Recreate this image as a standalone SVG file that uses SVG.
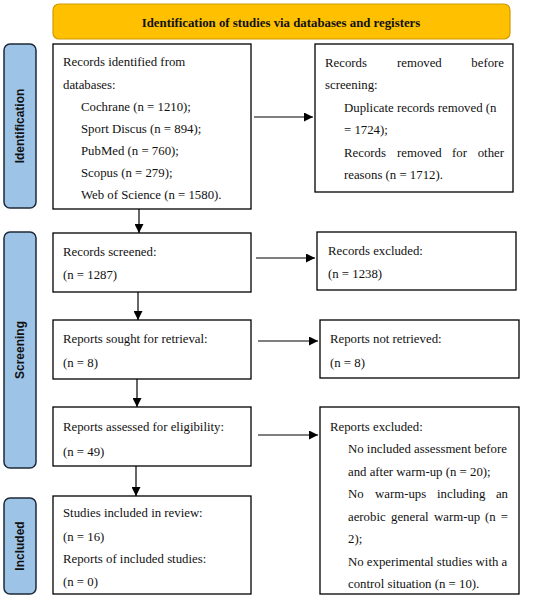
<svg xmlns="http://www.w3.org/2000/svg" width="550" height="598" viewBox="0 0 550 598">
<defs>
<marker id="ah" viewBox="0 0 10 10" refX="10" refY="5" markerWidth="9" markerHeight="9" markerUnits="userSpaceOnUse" orient="auto">
<path d="M0,0 L10,5 L0,10 z" fill="#000"/>
</marker>
<style>
.box{fill:#fff;stroke:#000;stroke-width:1.3}
.side{fill:#9DC3E6;stroke:#1E2A38;stroke-width:1.5}
.t{font-family:"Liberation Serif","Times New Roman",serif;font-size:12.8px;fill:#111}
.h{font-family:"Liberation Serif","Times New Roman",serif;font-size:12.8px;font-weight:bold;fill:#111}
.s{font-family:"Liberation Sans",Arial,sans-serif;font-size:12px;font-weight:bold;fill:#111}
.c{stroke:#000;stroke-width:1.2;fill:none}
</style>
</defs>
<rect width="550" height="598" fill="#fff"/>
<g id="header">
<rect x="53" y="4" width="457" height="35" rx="6" fill="#FFC000" stroke="#D29A00" stroke-width="1.2"/>
<text class="h" x="281" y="27" text-anchor="middle">Identification of studies via databases and registers</text>
</g>
<g id="side-identification">
<rect class="side" x="4" y="44" width="32" height="164" rx="6"/>
<text class="s" transform="translate(24,126) rotate(-90)" text-anchor="middle">Identification</text>
</g>
<g id="side-screening">
<rect class="side" x="4" y="232" width="32" height="236" rx="6"/>
<text class="s" transform="translate(24,350) rotate(-90)" text-anchor="middle">Screening</text>
</g>
<g id="side-included">
<rect class="side" x="4" y="498" width="32" height="96" rx="6"/>
<text class="s" transform="translate(24,546) rotate(-90)" text-anchor="middle">Included</text>
</g>
<g id="records-identified">
<rect class="box" x="53" y="44" width="198" height="165"/>
<text class="t" x="63" y="66">Records identified from</text>
<text class="t" x="63" y="89">databases:</text>
<text class="t" x="81" y="111">Cochrane (n = 1210);</text>
<text class="t" x="81" y="133">Sport Discus (n = 894);</text>
<text class="t" x="81" y="155">PubMed (n = 760);</text>
<text class="t" x="81" y="177">Scopus (n = 279);</text>
<text class="t" x="81" y="199">Web of Science (n = 1580).</text>
</g>
<g id="records-removed">
<rect class="box" x="315" y="44" width="198" height="148"/>
<text class="t" x="325" y="67">Records</text>
<text class="t" x="397" y="67">removed</text>
<text class="t" x="504" y="67" text-anchor="end">before</text>
<text class="t" x="325" y="89">screening:</text>
<text class="t" x="344" y="112">Duplicate records removed (n</text>
<text class="t" x="344" y="134">= 1724);</text>
<text class="t" x="344" y="157">Records</text>
<text class="t" x="397" y="157">removed</text>
<text class="t" x="452" y="157">for</text>
<text class="t" x="504" y="157" text-anchor="end">other</text>
<text class="t" x="344" y="179">reasons (n = 1712).</text>
</g>
<g id="records-screened">
<rect class="box" x="53" y="233" width="198" height="59"/>
<text class="t" x="63" y="256">Records screened:</text>
<text class="t" x="63" y="279">(n = 1287)</text>
</g>
<g id="records-excluded">
<rect class="box" x="317" y="232" width="199" height="58"/>
<text class="t" x="328" y="255">Records excluded:</text>
<text class="t" x="328" y="278">(n = 1238)</text>
</g>
<g id="reports-sought">
<rect class="box" x="53" y="320" width="198" height="59"/>
<text class="t" x="63" y="343">Reports sought for retrieval:</text>
<text class="t" x="63" y="367">(n = 8)</text>
</g>
<g id="reports-not-retrieved">
<rect class="box" x="320" y="320" width="199" height="58"/>
<text class="t" x="330" y="343">Reports not retrieved:</text>
<text class="t" x="330" y="367">(n = 8)</text>
</g>
<g id="reports-assessed">
<rect class="box" x="53" y="407" width="198" height="59"/>
<text class="t" x="63" y="431">Reports assessed for eligibility:</text>
<text class="t" x="63" y="456">(n = 49)</text>
</g>
<g id="reports-excluded">
<rect class="box" x="320" y="407" width="199" height="187"/>
<text class="t" x="330" y="431">Reports excluded:</text>
<text class="t" x="348" y="453">No included assessment before</text>
<text class="t" x="348" y="476">and after warm-up (n = 20);</text>
<text class="t" x="348" y="498">No</text>
<text class="t" x="375" y="498">warm-ups</text>
<text class="t" x="437" y="498">including</text>
<text class="t" x="508" y="498" text-anchor="end">an</text>
<text class="t" x="348" y="521">aerobic</text>
<text class="t" x="391" y="521">general</text>
<text class="t" x="434" y="521">warm-up</text>
<text class="t" x="485" y="521">(n</text>
<text class="t" x="508" y="521" text-anchor="end">=</text>
<text class="t" x="348" y="543">2);</text>
<text class="t" x="348" y="566">No experimental studies with a</text>
<text class="t" x="348" y="588">control situation (n = 10).</text>
</g>
<g id="studies-included">
<rect class="box" x="53" y="496" width="198" height="98"/>
<text class="t" x="63" y="517">Studies included in review:</text>
<text class="t" x="63" y="541">(n = 16)</text>
<text class="t" x="63" y="563">Reports of included studies:</text>
<text class="t" x="63" y="586">(n = 0)</text>
</g>
<g id="connectors">
<line class="c" x1="254" y1="117" x2="313" y2="117" marker-end="url(#ah)"/>
<line class="c" x1="256" y1="258" x2="315" y2="258" marker-end="url(#ah)"/>
<line class="c" x1="258" y1="341" x2="318" y2="341" marker-end="url(#ah)"/>
<line class="c" x1="258" y1="435" x2="318" y2="435" marker-end="url(#ah)"/>
<line class="c" x1="139" y1="209" x2="139" y2="233" marker-end="url(#ah)"/>
<line class="c" x1="138" y1="292" x2="138" y2="320" marker-end="url(#ah)"/>
<line class="c" x1="137" y1="379" x2="137" y2="407" marker-end="url(#ah)"/>
<line class="c" x1="136" y1="466" x2="136" y2="496" marker-end="url(#ah)"/>
</g>
</svg>
